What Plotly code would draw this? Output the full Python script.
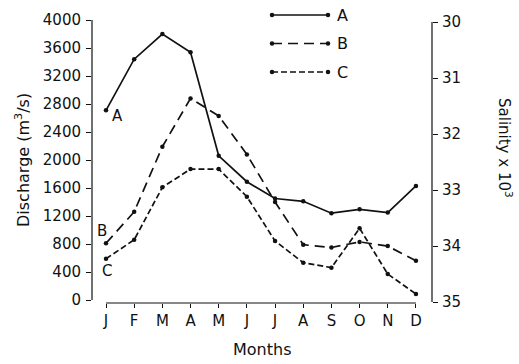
import plotly.graph_objects as go

months = ["J", "F", "M", "A", "M", "J", "J", "A", "S", "O", "N", "D"]
month_idx = list(range(1, 13))
series_A = [2710, 3440, 3800, 3540, 2060, 1690, 1450, 1410, 1240, 1295, 1250, 1630]
series_B = [810, 1260, 2190, 2880, 2630, 2080, 1400, 790, 750, 830, 770, 560]
series_C = [590, 860, 1610, 1870, 1870, 1476, 843, 533, 462, 1024, 371, 86]
discharge_ticks = list(range(0, 4001, 400))
salinity_ticks = [30, 31, 32, 33, 34, 35]

FONT = "DejaVu Sans"
INK = "#111111"

# pixel geometry of the plot area
L, R, T, B = 92, 432, 10, 303
W, H = 519, 364

fig = go.Figure()

styles = {
    "A": dict(dash="solid"),
    "B": dict(dash="10px,6px"),
    "C": dict(dash="6px,3px"),
}
for name, vals in [("A", series_A), ("B", series_B), ("C", series_C)]:
    fig.add_trace(go.Scatter(
        x=month_idx, y=vals, mode="lines+markers", name=name,
        line=dict(color=INK, width=1.7, dash=styles[name]["dash"]),
        marker=dict(color=INK, size=4.5), showlegend=False,
        xaxis="x", yaxis="y"))

# custom legend drawn in pixel overlay axes
leg_x0, leg_x1 = 272, 328
leg_rows = [("A", 15), ("B", 43.5), ("C", 72)]
for name, py in leg_rows:
    fig.add_trace(go.Scatter(
        x=[leg_x0, leg_x1], y=[py, py], mode="lines+markers",
        line=dict(color=INK, width=1.7, dash=styles[name]["dash"]),
        marker=dict(color=INK, size=4.5), showlegend=False,
        xaxis="x2", yaxis="y3", hoverinfo="skip"))
    fig.add_annotation(x=leg_x1 + 7, y=py, xref="x2", yref="y3", text=name,
                       showarrow=False, xanchor="left", yanchor="middle",
                       font=dict(family=FONT, size=16, color=INK))

ypx = 0.07  # px per discharge unit
y_lo = -(B - 300) / ypx
y_hi = 4000 + (20 - T) / ypx
s_top = 30 - (22 - T) / 56.0
s_bot = 35 + (B - 302) / 56.0

tickfont = dict(family=FONT, size=15, color=INK)
fig.update_layout(
    width=W, height=H,
    margin=dict(l=L, r=W - R, t=T, b=H - B),
    paper_bgcolor="white", plot_bgcolor="white",
    showlegend=False,
    xaxis=dict(range=[0.503, 12.57], tickvals=month_idx, ticktext=months,
               ticks="outside", ticklen=4, tickwidth=1.2, tickcolor=INK,
               showline=False, showgrid=False, zeroline=False,
               tickfont=dict(family=FONT, size=15, color=INK)),
    yaxis=dict(range=[y_lo, y_hi], tickvals=discharge_ticks,
               ticks="outside", ticklen=5, tickwidth=1.2, tickcolor=INK,
               showline=False, showgrid=False, zeroline=False,
               ticklabelstandoff=2, tickfont=tickfont),
    yaxis2=dict(range=[s_bot, s_top], tickvals=salinity_ticks, overlaying="y",
                side="right", ticks="outside", ticklen=5, tickwidth=1.2,
                tickcolor=INK, showline=False, showgrid=False, zeroline=False,
                ticklabelstandoff=1, tickfont=tickfont),
    xaxis2=dict(range=[L, R], overlaying="x", visible=False),
    yaxis3=dict(range=[B, T], overlaying="y", visible=False),
)

# axis lines
fig.add_shape(type="line", xref="paper", yref="y", x0=0, x1=0, y0=0, y1=4000,
              line=dict(color=INK, width=1.2))
fig.add_shape(type="line", xref="paper", yref="y2", x0=1, x1=1, y0=30, y1=35,
              line=dict(color=INK, width=1.2))
fig.add_shape(type="line", xref="x", yref="paper", x0=1, x1=12, y0=0, y1=0,
              line=dict(color=INK, width=1.2))

# series labels near the start of lines
for txt, xx, yy in [("A", 1.4, 2630), ("B", 0.86, 980), ("C", 1.04, 420)]:
    fig.add_annotation(x=xx, y=yy, xref="x", yref="y", text=txt, showarrow=False,
                       xanchor="center", yanchor="middle",
                       font=dict(family=FONT, size=15, color=INK))

# axis titles
fig.add_annotation(x=(22 - L) / (R - L), y=160, xref="paper", yref="y3",
                   text="Discharge (m<sup>3</sup>/s)", textangle=-90, showarrow=False,
                   xanchor="center", yanchor="middle",
                   font=dict(family=FONT, size=16, color=INK))
fig.add_annotation(x=(505 - L) / (R - L), y=148, xref="paper", yref="y3",
                   text="Salinity x 10<sup>3</sup>", textangle=90, showarrow=False,
                   xanchor="center", yanchor="middle",
                   font=dict(family=FONT, size=15, color=INK))
fig.add_annotation(x=(262 - L) / (R - L), y=(B - 349) / (B - T), xref="paper", yref="paper",
                   text="Months", showarrow=False, xanchor="center", yanchor="middle",
                   font=dict(family=FONT, size=16, color=INK))

fig.write_html("out.html", config={"displayModeBar": False},
               post_script="document.body.style.margin='0';document.body.style.overflow='hidden';")
